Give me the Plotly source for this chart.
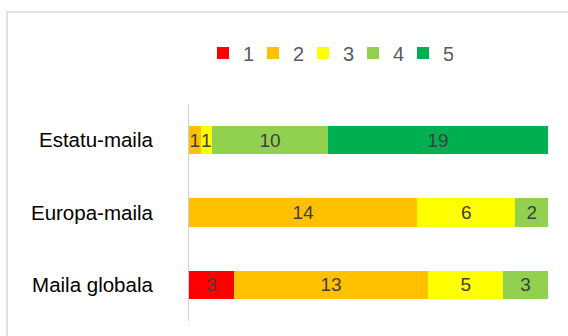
import plotly.graph_objects as go

# Survey levels (top to bottom) and response counts per score 1..5
categories = ["Estatu-maila", "Europa-maila", "Maila globala"]
scores = ["1", "2", "3", "4", "5"]
counts = {
    "1": [0, 0, 3],
    "2": [1, 14, 13],
    "3": [1, 6, 5],
    "4": [10, 2, 3],
    "5": [19, 0, 0],
}
colors = {
    "1": "#FF0000",
    "2": "#FFC000",
    "3": "#FFFF00",
    "4": "#92D050",
    "5": "#00B050",
}

fig = go.Figure()
for s in scores:
    vals = counts[s]
    fig.add_trace(go.Bar(
        y=categories,
        x=vals,
        name=s,
        orientation="h",
        marker=dict(color=colors[s], line=dict(width=0)),
        text=[str(v) if v else "" for v in vals],
        textposition="inside",
        insidetextanchor="middle",
        constraintext="none",
        textfont=dict(family="Liberation Sans, Arial, sans-serif", size=19, color="#404040"),
        hoverinfo="skip",
    ))

fig.update_layout(
    width=568,
    height=336,
    barmode="stack",
    barnorm="percent",
    bargap=0.61,
    paper_bgcolor="white",
    plot_bgcolor="white",
    margin=dict(l=189, r=20, t=104, b=15),
    showlegend=True,
    legend=dict(
        orientation="h",
        x=0.039,
        xanchor="left",
        y=1.235,
        yanchor="middle",
        font=dict(family="Liberation Sans, Arial, sans-serif", size=20, color="#595959"),
        traceorder="normal",
        entrywidth=5,
        bgcolor="rgba(0,0,0,0)",
    ),
    xaxis=dict(
        range=[0, 100],
        showgrid=False,
        zeroline=False,
        showticklabels=False,
        showline=False,
        fixedrange=True,
    ),
    yaxis=dict(
        autorange="reversed",
        showgrid=False,
        zeroline=False,
        showline=True,
        linecolor="#D0D0D0",
        linewidth=1,
        ticks="",
        ticklabelstandoff=31,
        tickfont=dict(family="Liberation Sans, Arial, sans-serif", size=20.5, color="#000000"),
    ),
    shapes=[
        # light chart-area frame
        dict(
            type="rect",
            xref="paper",
            yref="paper",
            x0=-0.507,
            x1=1.2,
            y0=-0.3,
            y1=1.424,
            line=dict(color="#D9D9D9", width=1.5),
            fillcolor="rgba(0,0,0,0)",
            layer="below",
        )
    ],
)

fig.write_html("out.html")
